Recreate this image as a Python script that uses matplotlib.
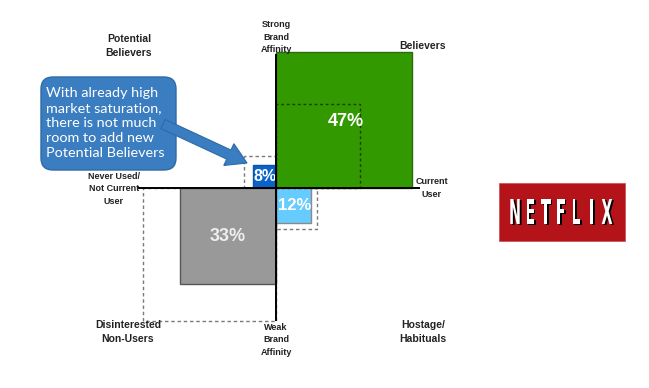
import matplotlib
matplotlib.use("Agg")
import matplotlib.pyplot as plt
from matplotlib.patches import Rectangle, FancyBboxPatch, FancyArrow, PathPatch
from matplotlib.textpath import TextPath
from matplotlib.font_manager import FontProperties
from matplotlib.transforms import Affine2D

# ---- data ----
segments = ["Believers", "Potential Believers", "Hostage/Habituals", "Disinterested Non-Users"]
current = [47, 8, 12, 33]          # current share (%)
prior = [29, 11, 14, 46]           # dashed reference squares (%)
labels = ["47%", "8%", "12%", "33%"]

# quadrant orientation (x sign, y sign)
signs = [(1, 1), (-1, 1), (1, -1), (-1, -1)]
fills = ["#339900", "#0a63c9", "#66ccff", "#999999"]
edges = ["#2b6b12", "#0a55aa", "#8a8a8a", "#555555"]
txtcol = ["white", "white", "white", "#eeeeee"]
txtsize = [13, 11.5, 12, 13]

S = 2.9      # pixels per unit
CX, CY = 276, 188

def P(px, py):
    return ((px - CX) / S, (CY - py) / S)

fig = plt.figure(figsize=(6.49, 3.88), dpi=100)
ax = fig.add_axes([0, 0, 1, 1])
x0, y1 = P(0, 0)
x1, y0 = P(649, 388)
ax.set_xlim(x0, x1)
ax.set_ylim(y0, y1)
ax.axis("off")

lab = dict(family="Liberation Sans", fontweight="bold", color="#222222", ha="center", va="center")

for i, (v, pv) in enumerate(zip(current, prior)):
    sx, sy = signs[i]
    ax.add_patch(Rectangle((0, 0), sx * v, sy * v, facecolor=fills[i], edgecolor=edges[i],
                           lw=1.0, zorder=3))
    if i == 0:
        ax.add_patch(Rectangle((0, 0), sx * pv, sy * pv, fill=False, edgecolor="#1c3d0c",
                               lw=1.0, ls=(0, (2, 2)), zorder=4))
    else:
        ax.add_patch(Rectangle((0, 0), sx * pv, sy * pv, fill=False, edgecolor="#7a7a7a",
                               lw=1.0, ls=(0, (2.5, 2)), zorder=2))
    if i == 0:
        tx, ty = 24, 23
    elif i == 1:
        tx, ty = -v / 2 + 0.3, v / 2
    elif i == 2:
        tx, ty = v / 2 + 0.4, -v / 2
    else:
        tx, ty = -16.8, -16.8
    ax.text(tx, ty, labels[i], color=txtcol[i], fontsize=txtsize[i], fontweight="bold",
            family="Liberation Sans", ha="center", va="center", zorder=6)

# axes lines
ax.plot([-47.6, 49.8], [0, 0], color="black", lw=1.4, zorder=7, solid_capstyle="butt")
ax.plot([0, 0], [-45.9, 46.2], color="black", lw=1.4, zorder=7, solid_capstyle="butt")

# axis / quadrant labels
ax.text(*P(276, 37), "Strong\nBrand\nAffinity", fontsize=6.5, linespacing=1.45, **lab)
ax.text(*P(276, 340), "Weak\nBrand\nAffinity", fontsize=6.5, linespacing=1.45, **lab)
ax.text(*P(114, 189), "Never Used/\nNot Current\nUser", fontsize=6.5, linespacing=1.45, **lab)
ax.text(*P(432, 188), "Current\nUser", fontsize=6.5, linespacing=1.45, **lab)
ax.text(*P(129, 46), "Potential\nBelievers", fontsize=7.5, linespacing=1.5, **lab)
ax.text(*P(423, 46), "Believers", fontsize=7.5, **lab)
ax.text(*P(128, 332), "Disinterested\nNon-Users", fontsize=7.5, linespacing=1.5, **lab)
ax.text(*P(423, 332), "Hostage/\nHabituals", fontsize=7.5, linespacing=1.5, **lab)

# callout
bx0, by1 = P(41, 77)
bx1, by0 = P(176, 170)
r = 12 / S
ax.add_patch(FancyBboxPatch((bx0 + r, by0 + r), bx1 - bx0 - 2 * r, by1 - by0 - 2 * r,
                            boxstyle=f"round,pad={r},rounding_size={r}",
                            facecolor="#3a7dc0", edgecolor="#2e6aa6", lw=1.0, zorder=5))
ax.text(*P(46, 123), "With already high\nmarket saturation,\nthere is not much\nroom to add new\nPotential Believers",
        color="white", fontsize=10.4, family="Lato", ha="left", va="center",
        linespacing=1.3, zorder=6)
ax0, ay0 = P(163, 124)
ax1_, ay1_ = P(247, 163)
ax.add_patch(FancyArrow(ax0, ay0, ax1_ - ax0, ay1_ - ay0, width=10 / S, head_width=24 / S,
                        head_length=20 / S, length_includes_head=True,
                        facecolor="#3a7dc0", edgecolor="#2e6aa6", lw=0.8, zorder=5))

# Netflix logo
lx0, ly1 = P(499, 183)
lx1, ly0 = P(625, 241)
ax.add_patch(Rectangle((lx0, ly0), lx1 - lx0, ly1 - ly0, facecolor="#b41419",
                       edgecolor="#c94a4e", lw=0.5, zorder=3))
letters = "NETFLIX"
fp = FontProperties(family="DejaVu Sans", weight="bold")
ref = TextPath((0, 0), "N", size=1, prop=fp)
cap_h = ref.get_extents().height
hpx = 25.0
for k, ch in enumerate(letters):
    tp = TextPath((0, 0), ch, size=1, prop=fp)
    ext = tp.get_extents()
    sy_ = (hpx / S) / cap_h
    sx_ = sy_ * 0.42
    cxp = 515 + k * (607 - 515) / (len(letters) - 1)
    cx, cy = P(cxp, 224)
    for dx, dy, col, z in [(1.8 / S, -1.0 / S, "black", 5), (0, 0, "white", 6)]:
        tr = Affine2D().translate(-(ext.x0 + ext.width / 2), 0).scale(sx_, sy_).translate(cx + dx, cy + dy)
        ax.add_patch(PathPatch(tr.transform_path(tp), facecolor=col, edgecolor="none", zorder=z))

fig.savefig("out.png", dpi=100)
